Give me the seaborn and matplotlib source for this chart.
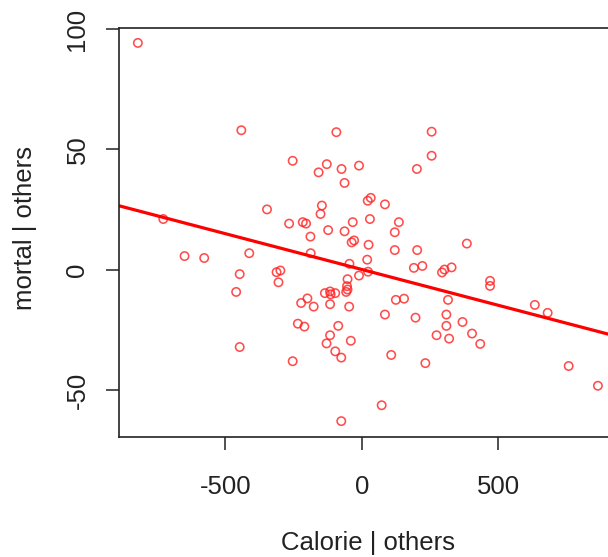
import matplotlib
matplotlib.use("Agg")
import matplotlib.pyplot as plt
import seaborn as sns
import pandas as pd

# Added-variable plot: residualised Calorie vs residualised mortal
calorie_resid = [
    -820, -441, -93, -253, -128, -158, -74, -10, -63, -347,
    -146, -151, -266, -216, -204, -33, -123, -63, -727, 256,
    256, 202, 33, 22, 85, 30, 136, -188, -37, -28,
    -649, -577, -412, -187, -45, -10, -447, -312, -298, -305,
    -52, -460, -54, -52, -57, -135, -116, -114, -97, -199,
    -222, -176, -116, -46, -234, -210, -86, -116, -129, -40,
    -97, -75, -447, -253, -75, 121, 25, 121, 203, 385,
    20, 191, 222, 294, 303, 329, 23, 470, 470, 316,
    125, 155, 85, 197, 310, 310, 369, 634, 681, 274,
    320, 404, 434, 108, 233, 758, 865, 73,
]
mortal_resid = [
    94.3, 58.0, 57.2, 45.3, 43.9, 40.5, 41.9, 43.3, 36.1, 25.1,
    26.7, 23.2, 19.2, 19.8, 19.2, 19.8, 16.5, 16.0, 21.1, 57.4,
    47.4, 41.9, 29.9, 28.7, 27.2, 21.1, 19.8, 13.8, 11.4, 12.2,
    5.7, 4.9, 6.9, 6.9, 2.5, -2.4, -1.8, -1.0, -0.3, -5.2,
    -3.9, -9.2, -6.8, -8.2, -9.2, -9.7, -9.0, -10.2, -9.7, -11.9,
    -13.8, -15.3, -14.3, -15.3, -22.4, -23.6, -23.3, -27.2, -30.6, -29.5,
    -33.9, -36.5, -32.1, -38.0, -62.9, 15.6, 10.4, 8.2, 8.2, 10.9,
    4.2, 0.8, 1.6, -1.1, 0.1, 1.0, -0.8, -4.6, -6.7, -12.5,
    -12.5, -12.0, -18.6, -19.9, -18.6, -23.3, -21.7, -14.6, -17.9, -27.2,
    -28.6, -26.5, -30.8, -35.4, -38.8, -40.0, -48.2, -56.3,
]

x_ticks = [-500, 0, 500]
y_ticks = [-50, 0, 50, 100]
x_label = "Calorie | others"
y_label = "mortal | others"

df = pd.DataFrame({"calorie": calorie_resid, "mortal": mortal_resid})

sns.set_theme(style="white")
plt.rcParams["font.family"] = ["Liberation Sans", "DejaVu Sans"]

fig = plt.figure(figsize=(6.08, 5.57), dpi=100)
ax = fig.add_axes([119.3 / 608, 1 - 437 / 557, 1 - 119.3 / 608, (437 - 28) / 557])
ax.set_xlim(-888, 902)
ax.set_ylim(-69.5, 100.5)

red = "#ff2020"
sns.regplot(
    data=df, x="calorie", y="mortal", ax=ax, ci=None, truncate=False,
    marker="o",
    scatter_kws=dict(s=36, facecolors="none", edgecolors=red, linewidths=1.15),
    line_kws=dict(color="#ff0000", linewidth=2.3),
)
ax.set_xlim(-888, 902)
ax.set_ylim(-69.5, 100.5)

fs = 18.5
ax.set_xticks(x_ticks)
ax.set_xticklabels([str(t) for t in x_ticks])
ax.set_yticks(y_ticks)
ax.set_yticklabels([str(t) for t in y_ticks], rotation=90, va="center")

ax.tick_params(axis="both", direction="out", length=9.5, width=1.1,
               color="#222222", labelsize=fs, labelcolor="#222222",
               bottom=True, left=True)
ax.tick_params(axis="x", pad=18)
ax.tick_params(axis="y", pad=12)

for side in ("left", "bottom", "top"):
    ax.spines[side].set_color("#222222")
    ax.spines[side].set_linewidth(1.2)
ax.spines["right"].set_visible(False)

ax.set_xlabel(x_label, fontsize=fs, color="#222222")
ax.set_ylabel(y_label, fontsize=fs, color="#222222")
ax.xaxis.set_label_coords((368 - 119.3) / (608 - 119.3), -(543 - 437) / (437 - 28))
ax.yaxis.set_label_coords(-(119.3 - 25) / (608 - 119.3), (437 - 228) / (437 - 28))
ax.xaxis.label.set_va("center")
ax.yaxis.label.set_va("center")

fig.savefig("out.png", dpi=100, facecolor="white")
